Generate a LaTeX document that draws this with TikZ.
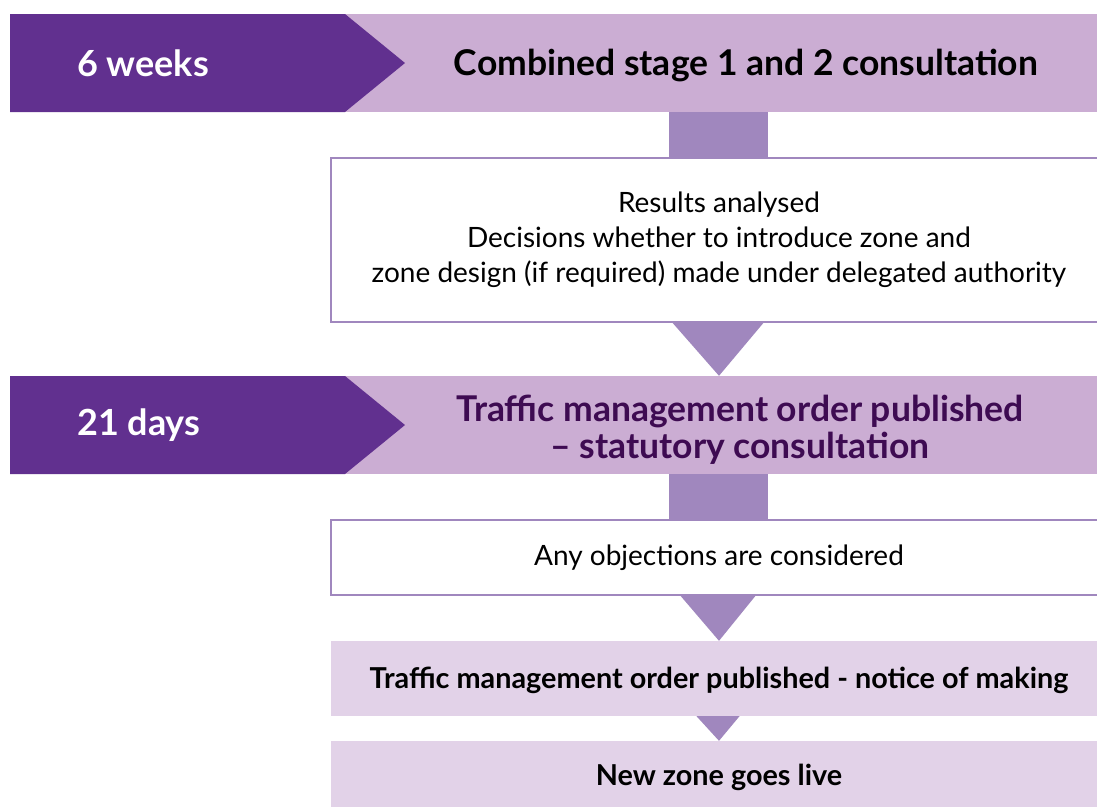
\documentclass[tikz,border=0pt]{standalone}
\usepackage{fontspec}
\setmainfont{Lato}
\usetikzlibrary{positioning,calc}

\definecolor{tagpurple}{RGB}{97,48,143}
\definecolor{bandlilac}{RGB}{203,173,211}
\definecolor{stemlilac}{RGB}{160,135,190}
\definecolor{palelilac}{RGB}{226,210,232}
\definecolor{titleplum}{RGB}{62,11,82}

\tikzset{
  band/.style={rectangle, fill=bandlilac, minimum height=98pt, inner sep=0pt},
  bandtitle/.style={align=center, inner sep=0pt, font=\bfseries\fontsize{35.5}{37}\selectfont},
  tagtext/.style={anchor=west, inner sep=0pt, text=white, font=\bfseries\fontsize{36}{40}\selectfont},
  whitebox/.style={rectangle, draw=stemlilac, line width=1.6pt, fill=white, minimum width=776pt,
    inner sep=0pt, align=center, font=\fontsize{28}{35}\selectfont},
  palebox/.style={rectangle, fill=palelilac, minimum width=776pt, inner sep=0pt},
  paletext/.style={inner sep=0pt, font=\bfseries\fontsize{28.8}{32}\selectfont},
  stem/.style={fill=stemlilac},
}

\begin{document}
\begin{tikzpicture}[x=1pt, y=-1pt]
  \clip (0,0) rectangle (1097,807);
  \fill[white] (0,0) rectangle (1097,807);

  % stage bands
  \node (band1) at (746,63) [band, minimum width=802pt] {};
  \node (band2) at (740,425) [band, minimum width=790pt] {};
  \node (title1) at ([yshift=-3pt]band1.center) [bandtitle] {Combined stage 1 and 2 consultation};
  \node (title2) at ([yshift=-5pt]band2.center) [bandtitle, text=titleplum]
    {Traffic management order published\\ -- statutory consultation};

  % duration tags
  \fill[tagpurple] (10,14) -- (345,14) -- (405,63) -- (345,112) -- (10,112) -- cycle;
  \fill[tagpurple] (10,376) -- (345,376) -- (405,425) -- (345,474) -- (10,474) -- cycle;
  \node (weeks) at (77,63) [tagtext] {6 weeks};
  \node (days) at (77,425) [tagtext] {21 days};

  % steps
  \node (box1) at (719,240) [whitebox, minimum height=164pt]
    {Results analysed\\ Decisions whether to introduce zone and\\ zone design (if required) made under delegated authority};
  \node (box2) at (719,557.5) [whitebox, minimum height=75pt] {Any objections are considered};
  \node (box3) at (719,678.5) [palebox, minimum height=75pt] {};
  \node (box4) at (719,774) [palebox, minimum height=66pt] {};
  \node (step3) at ([yshift=-2pt]box3.center) [paletext] {Traffic management order published - notice of making};
  \node (step4) at ([yshift=-3pt]box4.center) [paletext] {New zone goes live};

  \coordinate (axis) at (718,0);

  % connectors
  \fill[stem] ([xshift=-49.5pt]axis |- band1.south) rectangle ([xshift=49.5pt]axis |- box1.north);
  \fill[stem] ([xshift=-45.5pt]axis |- box1.south) -- ([xshift=45.5pt]axis |- box1.south)
    -- ([xshift=1pt]axis |- band2.north) -- cycle;
  \fill[stem] ([xshift=-49.5pt]axis |- band2.south) rectangle ([xshift=49.5pt]axis |- box2.north);
  \fill[stem] ([xshift=-37.5pt]axis |- box2.south) -- ([xshift=37.5pt]axis |- box2.south)
    -- ([xshift=1pt]axis |- box3.north) -- cycle;
  \fill[stem] ([xshift=-21.5pt]axis |- box3.south) -- ([xshift=21.5pt]axis |- box3.south)
    -- ([xshift=1pt]axis |- box4.north) -- cycle;
\end{tikzpicture}
\end{document}
